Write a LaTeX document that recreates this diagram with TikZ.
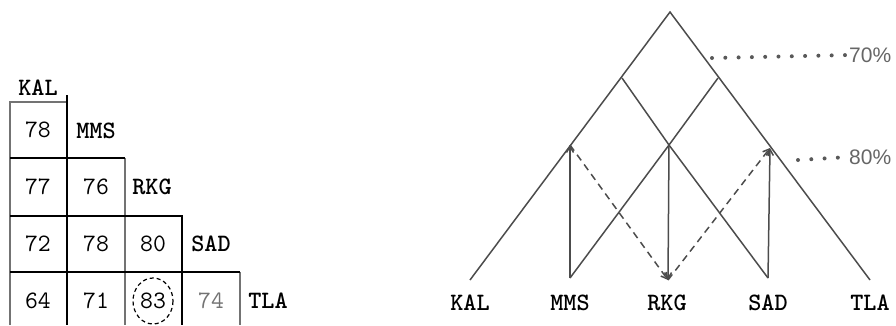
\documentclass[tikz,border=0pt]{standalone}
\usepackage{fontspec}
\setsansfont{Liberation Sans}
\usetikzlibrary{arrows.meta}
\begin{document}
\begin{tikzpicture}[x=1pt,y=-1pt,
    every node/.style={inner sep=0pt,font=\fontsize{25}{26}\selectfont\ttfamily},
    taxon/.style={font=\fontsize{25}{26}\selectfont\ttfamily\bfseries},
    thin rule/.style={draw=black!55,line width=1.1pt},
    thick rule/.style={draw=black,line width=1.7pt},
    branch/.style={draw=black!70,line width=1.5pt},
    move/.style={branch,-{Straight Barb[length=6pt,width=7pt]}},
    level/.style={draw=black!65,line width=4pt,line cap=round,dash pattern=on 0pt off 13.3pt},
    pct/.style={text=black!60,font=\fontsize{21}{24}\selectfont\sffamily}]
\useasboundingbox (0,0) rectangle (896,325);

% similarity matrix
\draw[thin rule] (10,325) -- (10,102) -- (67,102);
\draw[thin rule] (125,158) -- (125,325);
\draw[thin rule] (240,272) -- (240,325);
\draw[thick rule] (67,95) -- (67,325);
\draw[thick rule] (10,158) -- (125,158);
\draw[thick rule] (10,216) -- (182,216) -- (182,325);
\draw[thick rule] (10,272) -- (240,272);

\node[taxon] (kal) at (38,88) {KAL};
\node[taxon] (mms) at (96,131) {MMS};
\node[taxon] (rkg) at (152,187) {RKG};
\node[taxon] (sad) at (211,244) {SAD};
\node[taxon] (tla) at (268,301) {TLA};

\node (c21) at (38,130) {78};
\node (c31) at (38,187) {77};
\node (c32) at (96,187) {76};
\node (c41) at (38,244) {72};
\node (c42) at (96,244) {78};
\node (c43) at (153,244) {80};
\node (c51) at (38,301) {64};
\node (c52) at (96,301) {71};
\node (c53) at (153,301) {83};
\node[text=black!55] (c54) at (211,301) {74};
\draw[black,line width=1.2pt,dash pattern=on 4pt off 3pt] (c53) ellipse (20 and 23);

% tree
\coordinate (root) at (670,12);
\coordinate (left) at (622,78);
\coordinate (right) at (718,78);
\coordinate (mtop) at (570,145);
\coordinate (rtop) at (669,145);
\coordinate (stop) at (770,148);
\coordinate (kbot) at (470,280);
\coordinate (mbot) at (570,278);
\coordinate (rbot) at (668,280);
\coordinate (sbot) at (768,278);
\coordinate (tbot) at (870,280);

\node[taxon] (kal2) at (470,303) {KAL};
\node[taxon] (mms2) at (570,303) {MMS};
\node[taxon] (rkg2) at (667,303) {RKG};
\node[taxon] (sad2) at (768,303) {SAD};
\node[taxon] (tla2) at (870,303) {TLA};

\draw[branch] (kbot) -- (root) -- (tbot);
\draw[branch] (left) -- (rtop) -- (sbot);
\draw[branch] (right) -- (rtop) -- (mbot);
\draw[move] (mbot) -- (mtop);
\draw[move] (rtop) -- (rbot);
\draw[move] (sbot) -- (stop);
\draw[move,dash pattern=on 7pt off 5pt] (mtop) -- (rbot);
\draw[move,dash pattern=on 7pt off 5pt] (rbot) -- (stop);

% cut-off levels
\node[pct,anchor=west] (p70) at (849,55) {70\%};
\node[pct,anchor=west] (p80) at (849,157) {80\%};
\draw[level] (712,58) -- (p70.west);
\draw[level] (798,160) -- (p80.west);
\end{tikzpicture}
\end{document}
